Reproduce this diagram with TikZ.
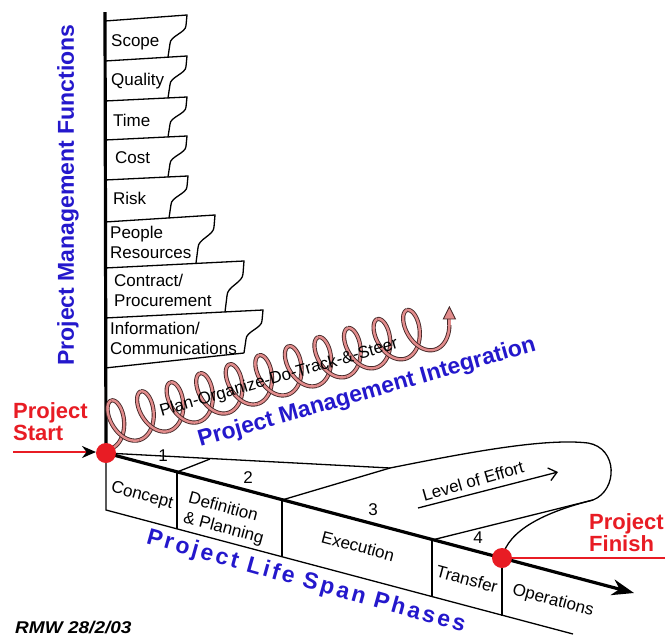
\documentclass[tikz,border=0pt]{standalone}
\usepackage{fontspec}
\setmainfont{Liberation Sans}
\newfontfamily\rmwfont[FakeStretch=1.12]{Liberation Sans}
\newfontfamily\spacedfont[LetterSpace=12]{Liberation Sans}
\usetikzlibrary{arrows.meta,calc}
\definecolor{pmred}{RGB}{232,28,36}
\definecolor{pmblue}{RGB}{36,24,204}
\definecolor{tubein}{RGB}{226,140,140}
\definecolor{tubeout}{RGB}{70,40,40}
\begin{document}
\begin{tikzpicture}[x=1pt,y=-1pt,
  lbl/.style={font=\fontsize{17}{20}\selectfont, align=left, inner sep=0pt},
  title/.style={font=\fontsize{23}{26}\selectfont\bfseries, text=pmblue, inner sep=0pt},
  redlbl/.style={font=\fontsize{22}{22}\selectfont\bfseries, text=pmred, align=left, inner sep=0pt},
  pmdot/.style={circle, fill=pmred, minimum size=20pt, inner sep=0pt},
  axisline/.style={line width=3.2pt},
  fline/.style={line width=1.3pt},
  tube/.style={draw=tubeout, line width=0.9pt, double=tubein, double distance=2.4pt}]
\fill[white] (0,0) rectangle (665,638);
\useasboundingbox (0,0) rectangle (665,638);

% key points
\coordinate (top) at (105,12);
\coordinate (S) at (106,453);
\coordinate (F) at (502,558);
\coordinate (tip) at (634,593);
\coordinate (L0) at (106,510);
\coordinate (L1) at (573,634);
\coordinate (J1) at (177,472);
\coordinate (J2) at (282,500);
\coordinate (J3) at (432,540);
\coordinate (B1) at (177,529);
\coordinate (B2) at (282,557);
\coordinate (B3) at (432,597);
\coordinate (B4) at (502,616);
\coordinate (M1) at (210,459);
\coordinate (M2) at (390,468);
\coordinate (M3) at (593,500);
\coordinate (redA) at (13,452);
\coordinate (redB) at (665,558);
\coordinate (loeA) at (418,508);
\coordinate (loeB) at (558,472);

% function boxes
\foreach \yl/\yr/\R/\h in {21/15/187/42, 61/56/187/42, 101/97/187/40, 140/136/187/41,
                            180/176/188/42, 222/215/215/48, 268/261/244/51, 318/310/263/43} {
  \draw[fline] (105,\yl) -- (\R,\yr) -- ({\R-1},{\yr+0.25*\h})
     .. controls ({\R-1},{\yr+0.42*\h}) and ({\R-17},{\yr+0.5*\h}) .. ({\R-17},{\yr+0.68*\h})
     -- ({\R-19},{\yr+\h});
}
\draw[fline] (105,368) -- (244,353);

\node[lbl, anchor=west] (scope) at (111,42) {Scope};
\node[lbl, anchor=west] (quality) at (111,81) {Quality};
\node[lbl, anchor=west] (time) at (113,120) {Time};
\node[lbl, anchor=west] (cost) at (115,158) {Cost};
\node[lbl, anchor=west] (risk) at (113,198) {Risk};
\node[lbl, anchor=west] (people) at (110,242) {People\\Resources};
\node[lbl, anchor=west] (contract) at (114,290) {Contract/\\Procurement};
\node[lbl, anchor=west] (info) at (110,338) {Information/\\Communications};

% vertical axis
\draw[axisline] (top) -- (S);

% spiral
\begin{scope}[shift={(110,449)}, rotate=17]
\foreach \k in {0,...,10} {
  \pgfmathsetmacro\ta{2*pi*\k}
  \pgfmathsetmacro\tb{2*pi*\k+pi}
  \pgfmathsetmacro\tc{2*pi*\k+2*pi}
  \draw[tube] plot[domain=\ta:\tb, samples=30, smooth] ({4.92*\x+14*sin(\x r)},{23*cos(\x r)-23});
  \draw[tube] plot[domain=\tb:\tc, samples=30, smooth] ({4.92*\x+14*sin(\x r)},{23*cos(\x r)-23});
}
\pgfmathsetmacro\td{22*pi}
\pgfmathsetmacro\te{22.45*pi}
\draw[tube] plot[domain=\td:\te, samples=12, smooth] ({4.92*\x+14*sin(\x r)},{23*cos(\x r)-23});
\coordinate (spend) at ({4.92*\te+14*sin(\te r)},{23*cos(\te r)-23});
\end{scope}
\draw[tube] (spend) -- ++(0,-7);
\filldraw[fill=tubein, draw=tubeout, line width=0.9pt] ($(spend)+(-6,-6)$) -- ($(spend)+(0,-18)$) -- ($(spend)+(6,-6)$) -- cycle;

\node[lbl, rotate=16] (pods) at (279,378) {Plan-Organize-Do-Track-\&-Steer};
\node[title, rotate=16] (pmi) at (367,393) {Project Management Integration};
\node[title, rotate=90] (pmf) at (68,195) {Project Management Functions};

% level of effort
\draw[fline] (S) -- (M2);
\draw[fline] (J1) -- (M1);
\draw[fline] (J2) -- (M2);
\draw[fline] (J3) -- (M3);
\draw[fline] (M2) .. controls (470,452) and (545,438) .. (588,443)
   .. controls (618,448) and (618,490) .. (M3)
   .. controls (545,512) and (508,530) .. (F);
\draw[fline, -{Straight Barb[length=8pt,width=13pt,line width=1.3pt]}] (loeA) -- (loeB);
\node[lbl, rotate=16] (loe) at (473,481) {Level of Effort};

% phases
\draw[fline] (S) -- (L0) -- (L1);
\draw[fline] (J1) -- (B1);
\draw[fline] (J2) -- (B2);
\draw[fline] (J3) -- (B3);
\draw[fline] (F) -- (B4);
\draw[axisline, -{Stealth[length=22pt,width=16pt,inset=7pt]}] (S) -- (tip);

\node[lbl] (n1) at (163,456) {1};
\node[lbl] (n2) at (248,478) {2};
\node[lbl] (n3) at (373,510) {3};
\node[lbl] (n4) at (478,538) {4};

\node[lbl, rotate=-15] (concept) at (142,496) {Concept};
\node[lbl, rotate=-15] (defplan) at (226,519) {Definition\\\& Planning};
\node[lbl, rotate=-15] (exec) at (358,546) {Execution};
\node[lbl, rotate=-15] (transfer) at (467,579) {Transfer};
\node[lbl, rotate=-15] (ops) at (553,601) {Operations};

\node[title, rotate=-15.7, font=\spacedfont\fontsize{23}{26}\selectfont\bfseries] (plsp) at (306,582) {Project Life Span Phases};

% start / finish
\draw[pmred, line width=2pt, -{Stealth[color=black,length=14pt,width=12pt]}] (redA) -- ($(S)+(-10,-1)$);
\draw[pmred, line width=2pt] (F) -- (redB);
\node[pmdot] (start) at (S) {};
\node[pmdot] (finish) at (F) {};
\node[redlbl, anchor=west] (pstart) at (13,422) {Project\\Start};
\node[redlbl, anchor=west] (pfinish) at (589,533) {Project\\Finish};

\node[anchor=west, inner sep=0pt, font=\rmwfont\fontsize{17}{20}\selectfont\bfseries\itshape] (rmw) at (15,628) {RMW 28/2/03};
\end{tikzpicture}
\end{document}
